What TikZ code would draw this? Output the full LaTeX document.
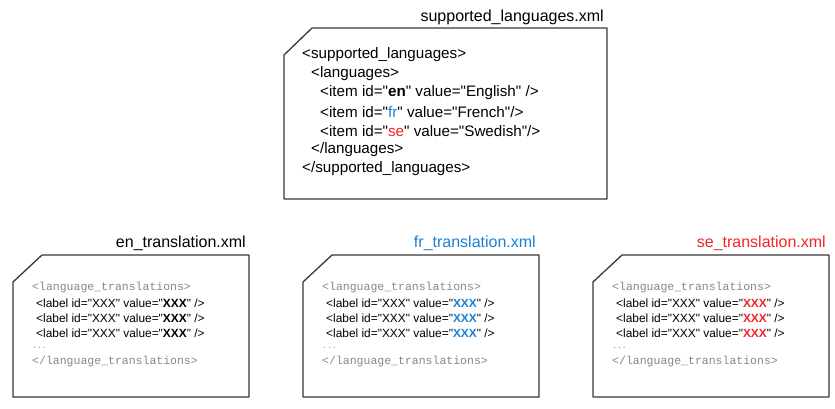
\documentclass[tikz,border=0pt]{standalone}
\usepackage{fontspec}
\newfontfamily\plainsans{Liberation Sans}
\setmonofont{Liberation Mono}
\definecolor{xblue}{RGB}{28,128,212}
\definecolor{xred}{RGB}{242,38,38}
\definecolor{xgray}{RGB}{135,135,135}
\definecolor{xline}{RGB}{55,55,55}
\tikzset{
  filebox/.style={draw=xline, line width=1.3pt, line join=round, fill=white},
  ftitle/.style={anchor=east, inner sep=0pt, font=\plainsans\fontsize{16}{19}\selectfont},
  topline/.style={anchor=west, inner sep=0pt, font=\plainsans\fontsize{15.2}{18}\selectfont},
  monoline/.style={anchor=west, inner sep=0pt, text=xgray, font=\ttfamily\fontsize{11.5}{13}\selectfont},
  labline/.style={anchor=west, inner sep=0pt, font=\plainsans\fontsize{11.9}{13}\selectfont}
}
\begin{document}
\begin{tikzpicture}[x=1pt,y=-1pt]
\useasboundingbox (0,0) rectangle (835,409);
% top file
\draw[filebox] (312,28) -- (607,28) -- (607,199) -- (284,199) -- (284,55) -- cycle;
\node[ftitle] (ttop) at (604,17) {supported\_languages.xml};
\node[topline] (l1) at (302,55) {<supported\_languages>};
\node[topline] (l2) at (311,74) {<languages>};
\node[topline] (l3) at (320,93) {<item id="\textbf{en}" value="English" />};
\node[topline] (l4) at (320,112) {<item id="\textcolor{xblue}{fr}" value="French"/>};
\node[topline] (l5) at (320,131) {<item id="\textcolor{xred}{se}" value="Swedish"/>};
\node[topline] (l6) at (311,150) {</languages>};
\node[topline] (l7) at (302,169) {</supported\_languages>};
% translation files
\foreach \off/\lang/\col in {0/en/black, 290/fr/xblue, 580/se/xred}{
  \draw[filebox] (42+\off,255) -- (249+\off,255) -- (249+\off,397) -- (13+\off,397) -- (13+\off,282) -- cycle;
  \node[ftitle, text=\col] (t\lang) at (246+\off,243) {\lang\_translation.xml};
  \node[monoline] (a\lang) at (32+\off,288) {<language\_translations>};
  \node[labline] (b\lang) at (36+\off,303) {<label id="XXX" value="\textbf{\textcolor{\col}{XXX}}" />};
  \node[labline] (c\lang) at (36+\off,318) {<label id="XXX" value="\textbf{\textcolor{\col}{XXX}}" />};
  \node[labline] (d\lang) at (36+\off,333) {<label id="XXX" value="\textbf{\textcolor{\col}{XXX}}" />};
  \node[monoline, font=\ttfamily\fontsize{8}{9}\selectfont] (e\lang) at (32+\off,348) {...};
  \node[monoline] (f\lang) at (32+\off,362) {</language\_translations>};
}
\end{tikzpicture}
\end{document}
